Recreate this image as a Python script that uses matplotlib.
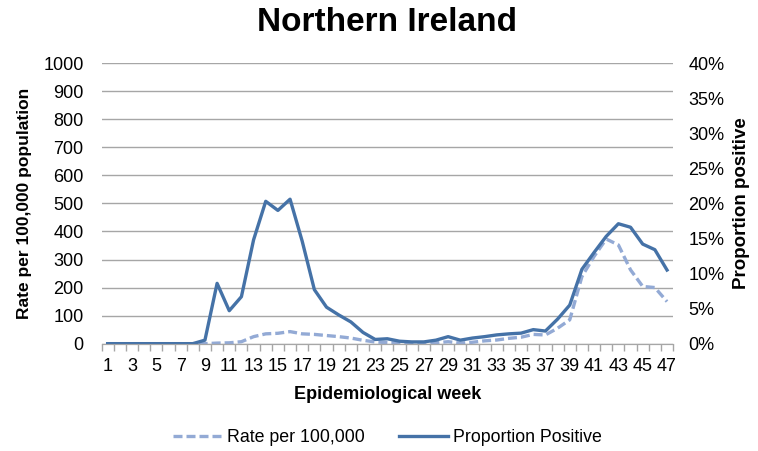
import numpy as np
import matplotlib
matplotlib.use("Agg")
import matplotlib.pyplot as plt
from matplotlib.ticker import PercentFormatter

plt.rcParams['font.family'] = ['Liberation Sans', 'DejaVu Sans']

weeks = list(range(1, 48))
rate = [0, 0, 0, 0, 0, 0, 0, 0, 0, 2, 3, 7, 25, 35, 37, 43, 35, 33, 29, 25,
        20, 12, 6, 4, 2, 1, 1, 3, 7, 2, 5, 10, 13, 19, 23, 33, 31, 55, 85, 239,
        311, 373, 352, 263, 204, 200, 150]
prop = [0, 0, 0, 0, 0, 0, 0, 0, 0.5, 8.6, 4.7, 6.7, 14.8, 20.3, 19.0, 20.6, 14.6, 7.7, 5.2, 4.1,
        3.1, 1.6, 0.6, 0.7, 0.35, 0.25, 0.25, 0.5, 1.0, 0.5, 0.8, 1.0, 1.25, 1.4, 1.5, 2.0, 1.8, 3.5, 5.5, 10.6,
        13.0, 15.3, 17.1, 16.6, 14.2, 13.4, 10.5]

solid_col = '#4572A7'
dash_col = '#93AAD5'
grid_col = '#A6A6A6'

fig = plt.figure(figsize=(7.58, 4.51), dpi=100)
ax = fig.add_axes([0.134, 0.238, 0.754, 0.622])
ax2 = ax.twinx()

l1, = ax.plot(weeks, rate, color=dash_col, lw=2.4, dashes=(2.7, 1.2),
              label='Rate per 100,000')
l2, = ax2.plot(weeks, prop, color=solid_col, lw=2.4, label='Proportion Positive')

ax.set_xlim(0.5, 47.5)
ax.set_ylim(0, 1000)
ax2.set_ylim(0, 40)
ax.set_yticks(np.arange(0, 1001, 100))
ax2.set_yticks(np.arange(0, 41, 5))
ax2.yaxis.set_major_formatter(PercentFormatter(decimals=0))

ax.set_xticks(weeks[::2])
ax.set_xticks(np.arange(0.5, 48, 1), minor=True)
ax.tick_params(axis='x', which='major', length=0, labelsize=13, pad=10)
ax.tick_params(axis='x', which='minor', length=5, color=grid_col, width=1)
ax.tick_params(axis='y', length=0, labelsize=13, pad=13)
ax2.tick_params(axis='y', length=0, labelsize=13, pad=11)

ax.grid(axis='y', color=grid_col, lw=1)
ax.set_axisbelow(True)
for a in (ax, ax2):
    for s in ['top', 'left', 'right']:
        a.spines[s].set_visible(False)
    a.spines['bottom'].set_color(grid_col)

fig.text(0.51, 0.951, 'Northern Ireland', fontsize=24, fontweight='bold',
         ha='center', va='center')
ax.set_xlabel('Epidemiological week', fontsize=13, fontweight='bold', labelpad=8)
ax.set_ylabel('Rate per 100,000 population', fontsize=12.5, fontweight='bold', labelpad=8)
ax2.set_ylabel('Proportion positive', fontsize=13.5, fontweight='bold', labelpad=6)

fig.legend(handles=[l1, l2], loc='center', bbox_to_anchor=(0.511, 0.029), ncol=2,
           frameon=False, fontsize=12.8, handlelength=2.8, columnspacing=1.9,
           handletextpad=0.25)

fig.savefig('out.png', dpi=100)
